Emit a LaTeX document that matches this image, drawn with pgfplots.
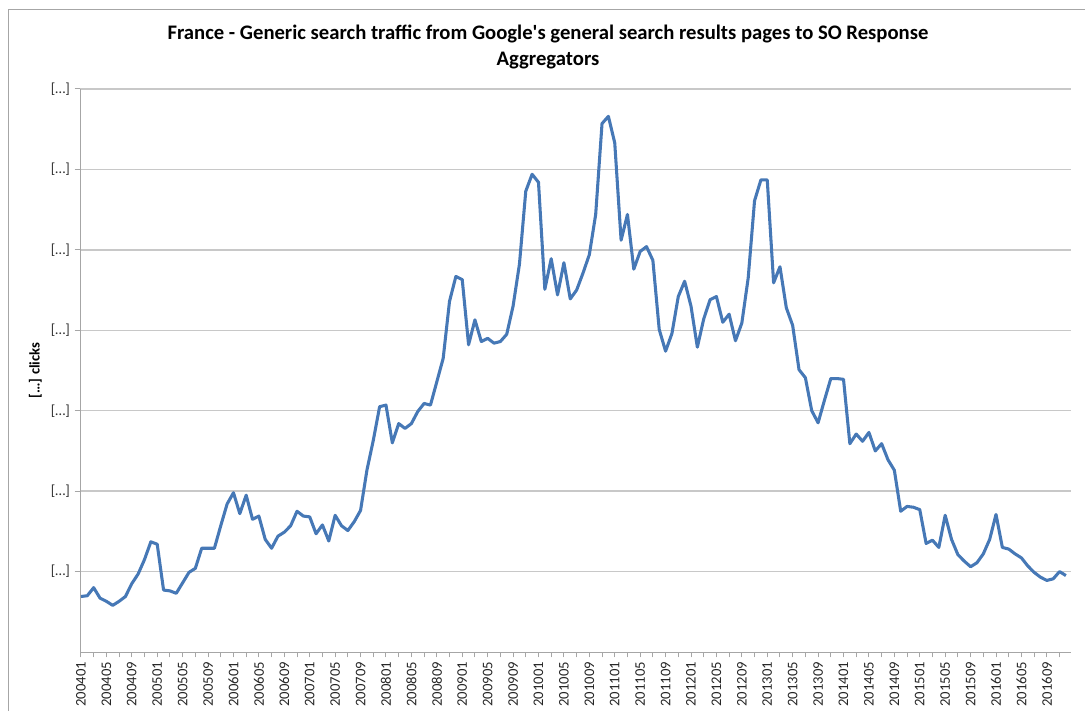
\documentclass[border=0pt]{standalone}
\usepackage{fontspec}
\setmainfont{Carlito}
\usepackage{pgfplots}
\pgfplotsset{compat=1.18}
\usepackage{pgfplotstable}

\definecolor{serie}{HTML}{4678B6}
\definecolor{grille}{HTML}{C8C8C8}
\definecolor{axe}{HTML}{A6A6A6}

% month index (0 = 200401), value in gridline units
\pgfplotstableread{
i v
0 0.69
1 0.70
2 0.80
3 0.67
4 0.63
5 0.58
6 0.63
7 0.69
8 0.85
9 0.97
10 1.15
11 1.37
12 1.34
13 0.77
14 0.76
15 0.73
16 0.86
17 0.99
18 1.04
19 1.29
20 1.29
21 1.29
22 1.57
23 1.84
24 1.98
25 1.72
26 1.95
27 1.65
28 1.69
29 1.40
30 1.29
31 1.44
32 1.49
33 1.57
34 1.75
35 1.69
36 1.68
37 1.47
38 1.58
39 1.38
40 1.70
41 1.57
42 1.51
43 1.62
44 1.76
45 2.26
46 2.63
47 3.05
48 3.07
49 2.60
50 2.84
51 2.78
52 2.84
53 2.99
54 3.09
55 3.07
56 3.36
57 3.65
58 4.36
59 4.67
60 4.63
61 3.82
62 4.13
63 3.86
64 3.90
65 3.84
66 3.86
67 3.95
68 4.30
69 4.82
70 5.73
71 5.94
72 5.84
73 4.51
74 4.89
75 4.44
76 4.84
77 4.39
78 4.50
79 4.71
80 4.94
81 5.44
82 6.57
83 6.66
84 6.33
85 5.12
86 5.44
87 4.76
88 4.98
89 5.04
90 4.87
91 4.01
92 3.74
93 3.96
94 4.42
95 4.61
96 4.30
97 3.79
98 4.14
99 4.38
100 4.42
101 4.10
102 4.20
103 3.87
104 4.09
105 4.65
106 5.61
107 5.87
108 5.87
109 4.59
110 4.79
111 4.28
112 4.06
113 3.51
114 3.41
115 3.00
116 2.85
117 3.13
118 3.40
119 3.40
120 3.39
121 2.59
122 2.71
123 2.62
124 2.73
125 2.50
126 2.59
127 2.39
128 2.26
129 1.75
130 1.81
131 1.80
132 1.77
133 1.35
134 1.39
135 1.30
136 1.70
137 1.40
138 1.21
139 1.13
140 1.06
141 1.11
142 1.22
143 1.40
144 1.71
145 1.30
146 1.28
147 1.22
148 1.17
149 1.07
150 0.99
151 0.93
152 0.89
153 0.91
154 1.00
155 0.95
}\clics

\begin{document}
\begin{tikzpicture}
\useasboundingbox (0,0) rectangle (813.75pt,533.25pt);
\draw[axe, line width=0.75pt] (6pt,0) -- (6pt,525.75pt) -- (813.75pt,525.75pt);

\node[font=\bfseries\fontsize{15.5}{19}\selectfont, align=center] at (411pt,498pt)
  {France - Generic search traffic from Google\textquotesingle s general search results pages to SO Response\\Aggregators};

\begin{axis}[
    at={(60pt,44.25pt)}, anchor=south west,
    scale only axis,
    width=743.25pt, height=422.25pt,
    xmin=-0.15, xmax=155.8,
    ymin=0, ymax=7,
    axis lines=left,
    axis line style={-, draw=axe, line width=0.75pt},
    ymajorgrids,
    grid style={grille, line width=1pt},
    ytick={1,2,3,4,5,6,7},
    yticklabels={[…],[…],[…],[…],[…],[…],[…]},
    xtick={0,4,...,152},
    xticklabels={200401,200405,200409,200501,200505,200509,200601,200605,200609,
      200701,200705,200709,200801,200805,200809,200901,200905,200909,
      201001,201005,201009,201101,201105,201109,201201,201205,201209,
      201301,201305,201309,201401,201405,201409,201501,201505,201509,
      201601,201605,201609},
    minor xtick={2,6,...,154},
    tick align=outside,
    major tick length=4pt,
    minor tick length=4pt,
    tick style={axe, line width=0.75pt},
    xticklabel style={rotate=90, anchor=east, font=\fontsize{11}{13}\selectfont, text=black!85},
    yticklabel style={font=\fontsize{11}{13}\selectfont, text=black!80},
    ylabel={[…] clicks},
    ylabel style={font=\bfseries\fontsize{11}{13}\selectfont},
    clip=false,
]
\addplot[serie, line width=2.3pt, line join=round] table[x=i, y=v] {\clics};
\end{axis}
\end{tikzpicture}
\end{document}
